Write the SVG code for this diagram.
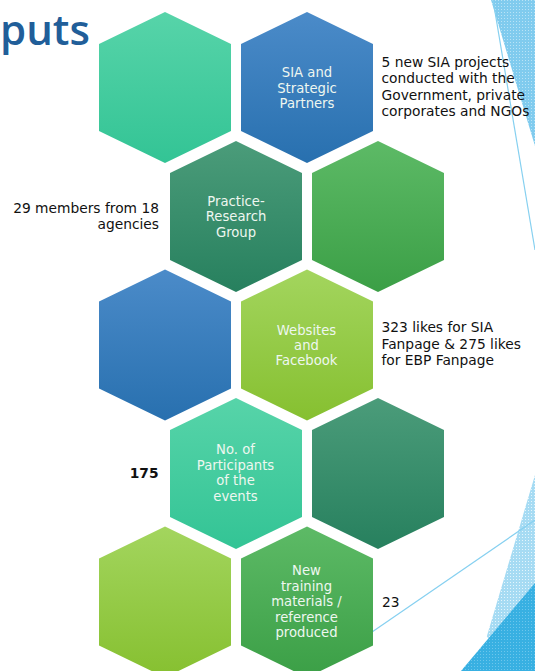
<svg xmlns="http://www.w3.org/2000/svg" width="535" height="671" viewBox="0 0 535 671">
<defs>
  <linearGradient id="gTeal" x1="0" y1="0" x2="0" y2="1"><stop offset="0" stop-color="#57D4A9"/><stop offset="1" stop-color="#33C495"/></linearGradient>
  <linearGradient id="gBlue" x1="0" y1="0" x2="0" y2="1"><stop offset="0" stop-color="#4B8BC9"/><stop offset="1" stop-color="#2870AF"/></linearGradient>
  <linearGradient id="gDark" x1="0" y1="0" x2="0" y2="1"><stop offset="0" stop-color="#4B9C7A"/><stop offset="1" stop-color="#27805E"/></linearGradient>
  <linearGradient id="gGreen" x1="0" y1="0" x2="0" y2="1"><stop offset="0" stop-color="#5DBA66"/><stop offset="1" stop-color="#3B9F46"/></linearGradient>
  <linearGradient id="gLime" x1="0" y1="0" x2="0" y2="1"><stop offset="0" stop-color="#A3D55E"/><stop offset="1" stop-color="#86C030"/></linearGradient>
  <pattern id="pLight" width="3" height="3" patternUnits="userSpaceOnUse">
    <rect width="3" height="3" fill="#A6DBF3"/><rect width="1" height="1" fill="#E4F5FC"/>
  </pattern>
  <pattern id="pTop" width="3" height="3" patternUnits="userSpaceOnUse">
    <rect width="3" height="3" fill="#80CBEE"/><rect width="1" height="1" fill="#B9E3F6"/>
  </pattern>
  <pattern id="pDark" width="3" height="3" patternUnits="userSpaceOnUse">
    <rect width="3" height="3" fill="#38B0E2"/><rect width="1" height="1" fill="#6CC6EC"/>
  </pattern>
  <polygon id="hex" points="0,-75.5 66,-43.5 66,43.5 0,75.5 -66,43.5 -66,-43.5"/>
</defs>
<style>
  .lbl{font-family:"DejaVu Sans",sans-serif;font-size:13.2px;fill:#EEF7F0;text-anchor:middle}
  .out{font-family:"DejaVu Sans",sans-serif;font-size:13.8px;fill:#111111}
  .end{text-anchor:end}
  .deco{fill:none;stroke:#86D0F0;stroke-width:1.2}
</style>
<rect width="535" height="671" fill="#FFFFFF"/>

<g id="decoration">
  <polygon points="491,0 535,0 535,146" fill="url(#pTop)"/>
  <line class="deco" x1="493" y1="0" x2="535" y2="250"/>
  <polygon points="535,475 486.7,636.7 535,671" fill="url(#pLight)"/>
  <polygon points="535,583 461,671 535,671" fill="url(#pDark)"/>
  <line class="deco" x1="340" y1="654" x2="535" y2="520"/>
</g>

<text x="0" y="45" font-family="'Open Sans',sans-serif" font-weight="600" font-size="42" fill="#215E99">puts</text>

<g id="hex-r1-left"><use href="#hex" transform="translate(165,87.5)" fill="url(#gTeal)"/></g>
<g id="hex-sia">
  <use href="#hex" transform="translate(307,87.5)" fill="url(#gBlue)"/>
  <text class="lbl"><tspan x="307" y="77">SIA and</tspan><tspan x="307" y="92.5">Strategic</tspan><tspan x="307" y="108">Partners</tspan></text>
</g>
<g id="hex-practice">
  <use href="#hex" transform="translate(236,216.5)" fill="url(#gDark)"/>
  <text class="lbl"><tspan x="236" y="205.5">Practice-</tspan><tspan x="236" y="221">Research</tspan><tspan x="236" y="236.5">Group</tspan></text>
</g>
<g id="hex-r2-right"><use href="#hex" transform="translate(378,216.5)" fill="url(#gGreen)"/></g>
<g id="hex-r3-left"><use href="#hex" transform="translate(165,345)" fill="url(#gBlue)"/></g>
<g id="hex-websites">
  <use href="#hex" transform="translate(307,345)" fill="url(#gLime)"/>
  <text class="lbl"><tspan x="306.5" y="334.5">Websites</tspan><tspan x="306.5" y="349.5">and</tspan><tspan x="306.5" y="364.5">Facebook</tspan></text>
</g>
<g id="hex-participants">
  <use href="#hex" transform="translate(236,473.5)" fill="url(#gTeal)"/>
  <text class="lbl"><tspan x="235.5" y="454">No. of</tspan><tspan x="235.5" y="469.5">Participants</tspan><tspan x="235.5" y="485">of the</tspan><tspan x="235.5" y="500.5">events</tspan></text>
</g>
<g id="hex-r4-right"><use href="#hex" transform="translate(378,473.5)" fill="url(#gDark)"/></g>
<g id="hex-r5-left"><use href="#hex" transform="translate(165,602)" fill="url(#gLime)"/></g>
<g id="hex-training">
  <use href="#hex" transform="translate(307,602)" fill="url(#gGreen)"/>
  <text class="lbl"><tspan x="306.5" y="575">New</tspan><tspan x="306.5" y="590.5">training</tspan><tspan x="306.5" y="606">materials /</tspan><tspan x="306.5" y="621.5">reference</tspan><tspan x="306.5" y="637">produced</tspan></text>
</g>

<g id="annotations">
  <text class="out"><tspan x="381.5" y="66.7">5 new SIA projects</tspan><tspan x="381.5" y="83.2">conducted with the</tspan><tspan x="381.5" y="99.6">Government, private</tspan><tspan x="381.5" y="116">corporates and NGOs</tspan></text>
  <text class="out end"><tspan x="159" y="213.4">29 members from 18</tspan><tspan x="159" y="229.4">agencies</tspan></text>
  <text class="out"><tspan x="381.5" y="332">323 likes for SIA</tspan><tspan x="381.5" y="348.7">Fanpage &amp; 275 likes</tspan><tspan x="381.5" y="365.3">for EBP Fanpage</tspan></text>
  <text class="out end" x="158.5" y="478" font-weight="bold">175</text>
  <text class="out" x="382" y="607">23</text>
</g>
</svg>
